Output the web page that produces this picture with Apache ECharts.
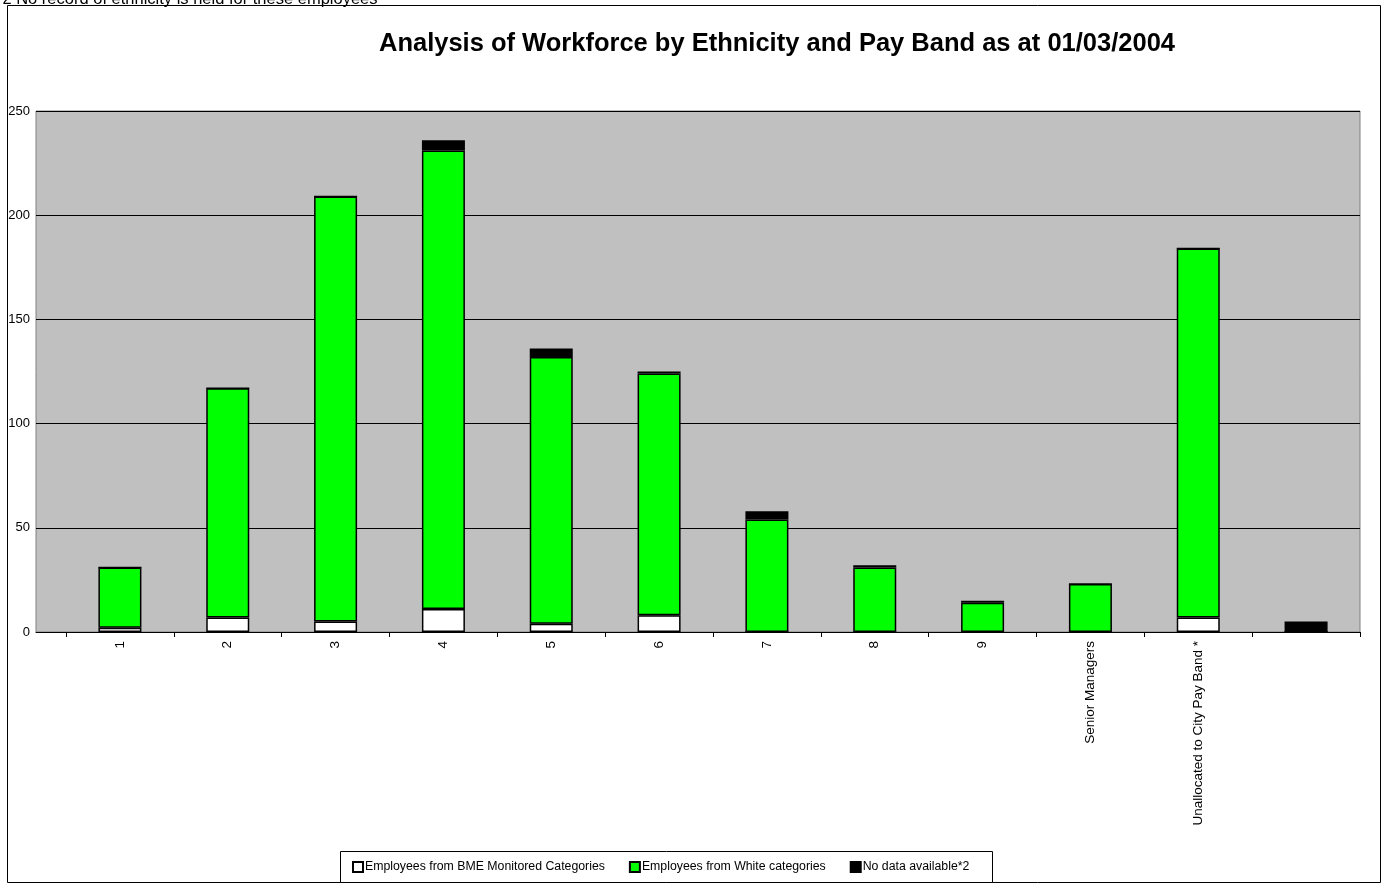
<!DOCTYPE html>
<html>
<head>
<meta charset="utf-8">
<script src="https://cdn.jsdelivr.net/npm/echarts@6/dist/echarts.min.js"></script>
<style>
  html, body { margin: 0; padding: 0; background: #fff; }
  #chart { width: 1388px; height: 890px; }
</style>
</head>
<body>
<div id="chart"></div>
<script>
// pay bands (last one has no label)
const bands = ['1', '2', '3', '4', '5', '6', '7', '8', '9', 'Senior Managers', 'Unallocated to City Pay Band *', ''];
const bme = [2, 7, 5, 11, 4, 8, 0, 0, 0, 0, 7, 0];
const white = [29, 110, 204, 220, 128, 116, 54, 31, 14, 23, 177, 0];
const noData = [0, 0, 0, 5, 4, 1, 4, 1, 1, 0, 0, 5];
const yTicks = [0, 50, 100, 150, 200, 250];

const FONT = 'Liberation Sans, Arial, sans-serif';
const chart = echarts.init(document.getElementById('chart'));

const barStyle = (color) => ({ color: color, borderColor: '#000', borderWidth: 1.5 });

const option = {
  animation: false,
  textStyle: { fontFamily: FONT },
  title: {
    text: 'Analysis of Workforce by Ethnicity and Pay Band as at 01/03/2004',
    left: 772,
    top: 26,
    textAlign: 'center',
    textStyle: { fontSize: 25.5, fontWeight: 'bold', color: '#000', fontFamily: FONT }
  },
  graphic: [
    {
      type: 'rect',
      shape: { x: 7.5, y: 5.5, width: 1373, height: 877 },
      style: { fill: 'none', stroke: '#000', lineWidth: 1 },
      silent: true
    },
    {
      type: 'text',
      left: -4,
      top: -9,
      style: {
        text: '*2 No record of ethnicity is held for these employees',
        fontSize: 16.5,
        fill: '#000',
        fontFamily: FONT
      }
    },
    {
      type: 'rect',
      shape: { x: 340.5, y: 851.5, width: 652, height: 31 },
      style: { fill: '#fff', stroke: '#000', lineWidth: 1 },
      silent: true,
      z: 0
    }
  ],
  // grid 0: plot area (background, gridlines, y labels); grid 1: the bars
  grid: [
    {
      left: 36,
      right: 28,
      top: 111,
      bottom: 258,
      show: true,
      backgroundColor: '#C0C0C0',
      borderColor: '#808080',
      borderWidth: 1
    },
    {
      left: 66,
      right: 28,
      top: 111,
      bottom: 258
    }
  ],
  legend: {
    top: 856,
    left: 347,
    itemWidth: 10,
    itemHeight: 10,
    itemGap: 24,
    icon: 'rect',
    textStyle: { fontSize: 12.3, color: '#000', padding: [0, 0, 0, -3] },
    z: 10,
    data: ['Employees from BME Monitored Categories', 'Employees from White categories', 'No data available*2']
  },
  xAxis: [
    {
      type: 'category',
      gridIndex: 0,
      data: [''],
      axisLine: { show: true, lineStyle: { color: '#000', width: 1 } },
      axisTick: { show: false },
      axisLabel: { show: false },
      splitLine: { show: false }
    },
    {
      type: 'category',
      gridIndex: 1,
      data: bands,
      axisLine: { show: false },
      axisTick: { show: true, length: 5, lineStyle: { color: '#000' } },
      axisLabel: { rotate: 90, fontSize: 13.5, color: '#000', margin: 9, interval: 0 },
      splitLine: { show: false }
    }
  ],
  yAxis: [
    {
      type: 'value',
      gridIndex: 0,
      min: yTicks[0],
      max: yTicks[yTicks.length - 1],
      interval: 50,
      axisLine: { show: false },
      axisTick: { show: false },
      axisLabel: { fontSize: 13, color: '#000', margin: 6 },
      splitLine: { show: true, lineStyle: { color: '#000', width: 1 } }
    },
    {
      type: 'value',
      gridIndex: 1,
      min: yTicks[0],
      max: yTicks[yTicks.length - 1],
      interval: 50,
      show: false
    }
  ],
  series: [
    {
      name: 'Employees from BME Monitored Categories',
      type: 'bar',
      xAxisIndex: 1,
      yAxisIndex: 1,
      stack: 'total',
      barWidth: 43,
      data: bme,
      itemStyle: barStyle('#FFFFFF')
    },
    {
      name: 'Employees from White categories',
      type: 'bar',
      xAxisIndex: 1,
      yAxisIndex: 1,
      stack: 'total',
      barWidth: 43,
      data: white,
      itemStyle: barStyle('#00FF00')
    },
    {
      name: 'No data available*2',
      type: 'bar',
      xAxisIndex: 1,
      yAxisIndex: 1,
      stack: 'total',
      barWidth: 43,
      data: noData,
      itemStyle: barStyle('#000000')
    }
  ]
};

chart.setOption(option);
</script>
</body>
</html>
